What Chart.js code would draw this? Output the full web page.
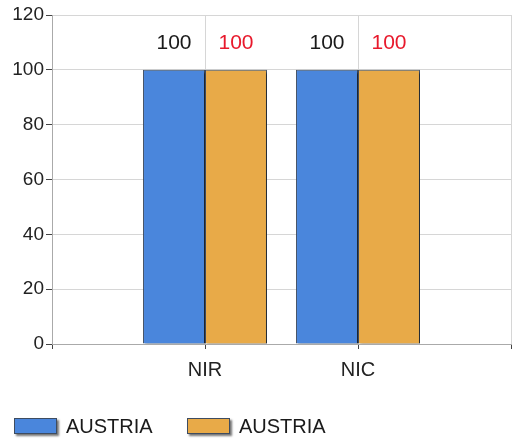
<!DOCTYPE html>
<html>
<head>
<meta charset="UTF-8">
<title>NIR / NIC</title>
<script src="https://cdn.jsdelivr.net/npm/chart.js"></script>
<style>
    html, body { margin: 0; padding: 0; background: #fff; }
    #wrap { width: 512px; height: 443px; }
</style>
</head>
<body>
<div id="wrap"><canvas id="chart" width="512" height="443"></canvas></div>
<script>
    // data
    const categories = ['NIR', 'NIC'];
    const seriesNames = ['AUSTRIA', 'AUSTRIA'];
    const seriesA = [100, 100];
    const seriesB = [100, 100];
    const yTicks = [0, 20, 40, 60, 80, 100, 120];

    const colors = ['#4a86dc', '#e8aa48'];
    const labelColors = ['#1a1a1a', '#e8192c'];
    const FONT = 'Arial, "Liberation Sans", sans-serif';

    // empty slot on each side so the two groups sit at 1/3 and 2/3
    const labels = [''].concat(categories, ['']);
    const pad = arr => [null].concat(arr, [null]);

    const shadowPlugin = {
        id: 'shadow',
        beforeDatasetsDraw(chart) {
            const ctx = chart.ctx;
            ctx.save();
            ctx.shadowColor = 'rgba(0,0,0,0.55)';
            ctx.shadowOffsetX = 2;
            ctx.shadowOffsetY = 2;
            ctx.shadowBlur = 2;
        },
        afterDatasetsDraw(chart) {
            const ctx = chart.ctx;
            ctx.restore();
            // value labels
            ctx.save();
            ctx.font = '21px ' + FONT;
            ctx.textAlign = 'center';
            ctx.textBaseline = 'middle';
            chart.data.datasets.forEach((ds, i) => {
                chart.getDatasetMeta(i).data.forEach((bar, j) => {
                    if (ds.data[j] == null) return;
                    ctx.fillStyle = labelColors[i];
                    ctx.fillText(String(ds.data[j]), bar.x, bar.y - 27);
                });
            });
            ctx.restore();
        }
    };

    const legendPlugin = {
        id: 'boxLegend',
        afterDraw(chart) {
            const ctx = chart.ctx;
            const xs = [14, 187];
            const y = 418;
            ctx.save();
            chart.data.datasets.forEach((ds, i) => {
                ctx.save();
                ctx.shadowColor = 'rgba(0,0,0,0.55)';
                ctx.shadowOffsetX = 2;
                ctx.shadowOffsetY = 2;
                ctx.shadowBlur = 2;
                ctx.fillStyle = colors[i];
                ctx.fillRect(xs[i], y, 43, 16);
                ctx.restore();
                ctx.strokeStyle = '#3e4c60';
                ctx.lineWidth = 1;
                ctx.strokeRect(xs[i] + 0.5, y + 0.5, 42, 15);
                ctx.fillStyle = '#1a1a1a';
                ctx.font = '20px ' + FONT;
                ctx.textBaseline = 'middle';
                ctx.textAlign = 'left';
                ctx.fillText(ds.label, xs[i] + 52, y + 9);
            });
            ctx.restore();
        }
    };

    new Chart(document.getElementById('chart'), {
        type: 'bar',
        data: {
            labels: labels,
            datasets: [
                { label: seriesNames[0], data: pad(seriesA), backgroundColor: colors[0] },
                { label: seriesNames[1], data: pad(seriesB), backgroundColor: colors[1] }
            ]
        },
        options: {
            responsive: false,
            animation: false,
            layout: { padding: { top: 15, right: 1, left: 0, bottom: 0 } },
            datasets: {
                bar: {
                    categoryPercentage: 0.81,
                    barPercentage: 1.0,
                    borderColor: '#3e4c60',
                    borderWidth: 1
                }
            },
            plugins: {
                legend: { display: false },
                tooltip: { enabled: false }
            },
            scales: {
                x: {
                    offset: false,
                    grid: { color: '#d6d6d6', tickColor: '#444', tickLength: 5, offset: false },
                    border: { color: '#aaaaaa' },
                    ticks: { color: '#222', font: { size: 20, family: FONT }, padding: 9, maxRotation: 0 },
                    afterFit(scale) {
                        scale.height = 99;
                        scale.paddingLeft = 0;
                        scale.paddingRight = 0;
                    }
                },
                y: {
                    min: 0,
                    max: 120,
                    grid: { color: '#d6d6d6', tickColor: '#444', tickLength: 6 },
                    border: { color: '#aaaaaa' },
                    afterBuildTicks(scale) { scale.ticks = yTicks.map(v => ({ value: v })); },
                    ticks: { color: '#222', font: { size: 19, family: FONT }, padding: 2 },
                    afterFit(scale) { scale.width = 52; }
                }
            }
        },
        plugins: [shadowPlugin, legendPlugin]
    });
</script>
</body>
</html>
